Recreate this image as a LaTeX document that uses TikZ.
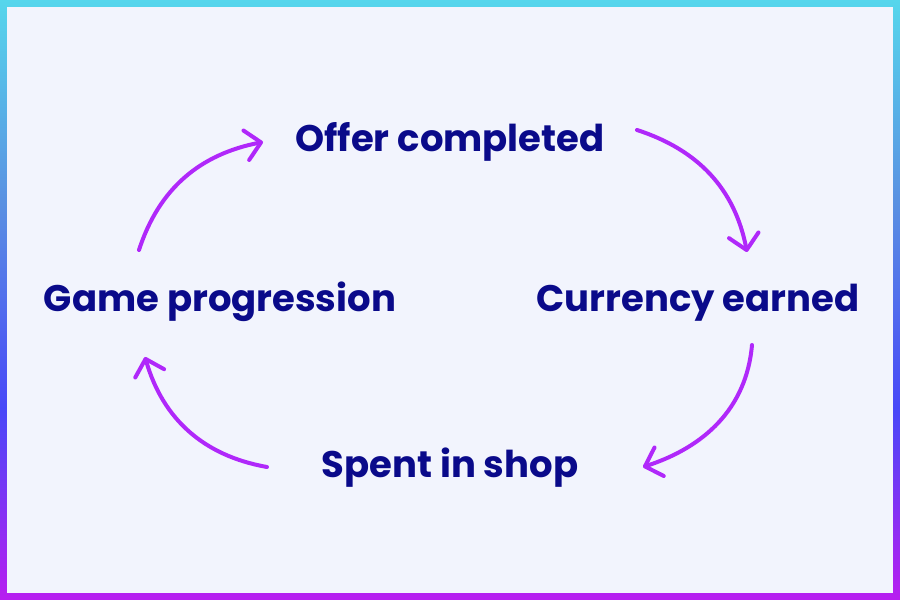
\documentclass[tikz,border=0pt]{standalone}
\usepackage{fontspec}
\setmainfont{Poppins}
\usetikzlibrary{arrows.meta}
\definecolor{bgc}{RGB}{242,244,253}
\definecolor{txt}{RGB}{10,10,138}
\definecolor{arr}{RGB}{176,40,250}
\definecolor{gA}{RGB}{86,214,236}
\definecolor{gB}{RGB}{90,144,226}
\definecolor{gC}{RGB}{72,72,248}
\definecolor{gD}{RGB}{184,30,240}
\pgfdeclareverticalshading{bordershade}{100bp}{color(0bp)=(gD); color(25bp)=(gD); color(41bp)=(gC); color(58bp)=(gB); color(75bp)=(gA); color(100bp)=(gA)}
\tikzset{
  lbl/.style={text=txt, font=\fontsize{37}{44}\selectfont\bfseries, inner sep=0pt, anchor=base},
  cyc/.style={draw=arr, line width=4pt, line cap=round,
    -{Straight Barb[length=15pt,width=30pt,line width=4pt,round]}}
}
\begin{document}
\begin{tikzpicture}[x=1pt,y=1pt]
  \useasboundingbox (0,0) rectangle (900,600);
  \shade[shading=bordershade] (0,0) rectangle (900,600);
  \fill[bgc] (7,7) rectangle (893,593);
  \node[lbl] (offer) at (450,448) {Offer completed};
  \node[lbl] (curr) at (698,288) {Currency earned};
  \node[lbl] (shop) at (450,122) {Spent in shop};
  \node[lbl] (game) at (220,288) {Game progression};
  \coordinate (a1s) at (637,470);
  \coordinate (a1e) at (747,348);
  \coordinate (a2s) at (752,255);
  \coordinate (a2e) at (643,133);
  \coordinate (a3s) at (267,133);
  \coordinate (a3e) at (145,243);
  \coordinate (a4s) at (139,350);
  \coordinate (a4e) at (263,458);
  \draw[cyc] (a1s) to[out=-18,in=101] (a1e);
  \draw[cyc] (a2s) to[out=-95,in=18] (a2e);
  \draw[cyc] (a3s) to[out=170,in=-74] (a3e);
  \draw[cyc] (a4s) to[out=72,in=191] (a4e);
\end{tikzpicture}
\end{document}
